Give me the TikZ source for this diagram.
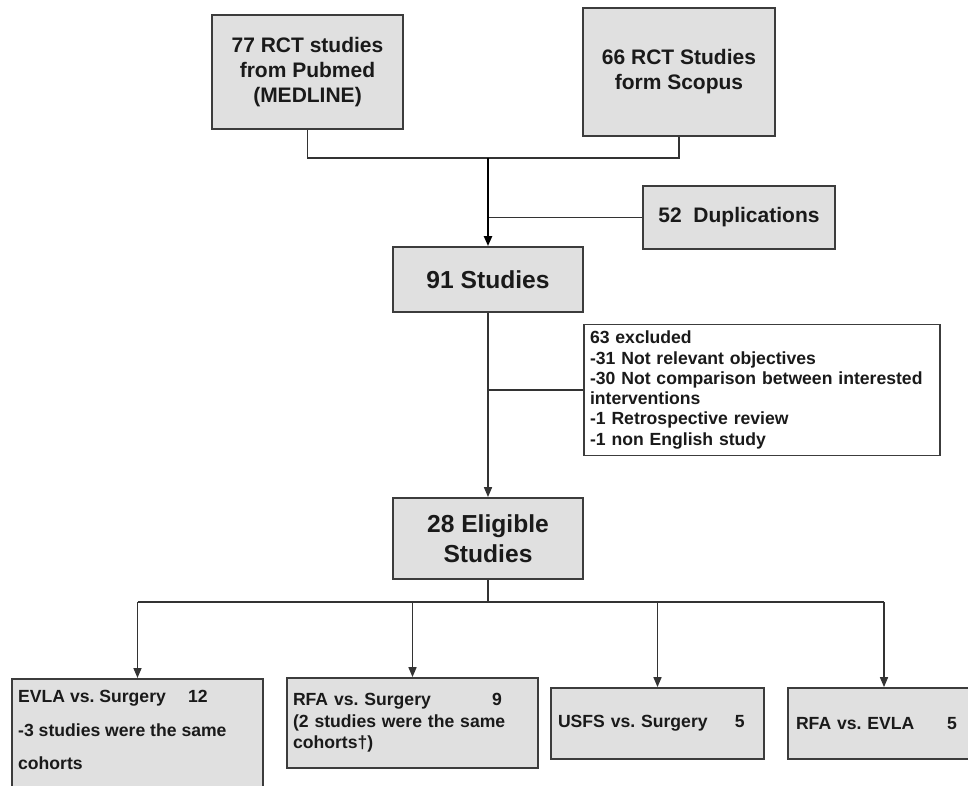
\documentclass[tikz,border=0pt]{standalone}
\usepackage{fontspec}
\setmainfont{Liberation Sans}
\usetikzlibrary{arrows.meta}
\definecolor{boxfill}{HTML}{E0E0E0}
\definecolor{boxline}{HTML}{3C3C3C}
\definecolor{conncol}{HTML}{333333}
\definecolor{txt}{HTML}{1A1A1A}
\frenchspacing
\begin{document}
\begin{tikzpicture}[x=1pt,y=-1pt,
  box/.style={draw=boxline, line width=1.8pt, fill=boxfill, inner sep=0pt, text=txt,
    font=\bfseries\fontsize{21}{25}\selectfont, align=center},
  bigbox/.style={box, font=\bfseries\fontsize{24.6}{30}\selectfont},
  smallbox/.style={box, align=left, font=\bfseries\fontsize{17.6}{21.5}\selectfont},
  conn/.style={draw=conncol, line width=1.6pt},
  arr/.style={conn, -{Triangle[length=10pt,width=8pt]}},
  btxt/.style={text=txt, inner sep=0pt, anchor=north west, align=left,
    font=\bfseries\fontsize{17.6}{33.5}\selectfont}
]
\useasboundingbox (0,0) rectangle (968,786);

% top boxes
\node[box, minimum width=191pt, minimum height=114pt] (pub) at (307.5,72)
  {77 RCT studies\\from Pubmed\\(MEDLINE)};
\node[box, minimum width=192pt, minimum height=128pt] (scop) at (679,72)
  {66 RCT Studies\\form Scopus};
\node[box, minimum width=192pt, minimum height=63pt] (dup) at (739,217.5)
  {52\ \ Duplications};
\node[bigbox, minimum width=190pt, minimum height=65pt] (s91) at (488,279.5)
  {91 Studies};
\node[smallbox, fill=white, text width=344pt, minimum width=356pt, minimum height=131pt,
  font=\bfseries\fontsize{17.6}{20.3}\selectfont] (excl) at (762,390)
  {63 excluded\\-31 Not relevant objectives\\-30 Not comparison between interested\\interventions\\-1 Retrospective review\\-1 non English study};
\node[bigbox, minimum width=190pt, minimum height=81pt] (s28) at (488,538.5)
  {28 Eligible\\Studies};

% bottom boxes
\node[box, anchor=north, minimum width=251pt, minimum height=130pt] (b1) at (137.5,678) {};
\node[btxt] (t1) at (18,690.3)
  {\makebox[170pt][l]{EVLA vs. Surgery}12\\-3 studies were the same\\cohorts};
\node[smallbox, text width=239pt, minimum width=251pt, minimum height=90pt] (b2) at (412.5,723)
  {\makebox[199pt][l]{RFA vs. Surgery}9\\(2 studies were the same\\cohorts\textdagger)};
\node[smallbox, text width=199pt, minimum width=213pt, minimum height=71pt] (b3) at (657.5,723.5)
  {\makebox[177pt][l]{USFS vs. Surgery}5};
\node[smallbox, text width=176pt, minimum width=192pt, minimum height=71pt] (b4) at (884,723.5)
  {\makebox[151pt][l]{RFA vs. EVLA}5};

% connectors
\coordinate (j1) at (488,158);
\draw[conn] (pub.south) |- (j1) -| (scop.south);
\draw[conn] (dup.west) -- (dup.west -| j1);
\draw[arr, line width=2.2pt, draw=black] (j1) -- (s91.north);
\draw[arr] (s91.south) -- (s28.north);
\draw[conn] (excl.west) -- (excl.west -| s91.south);
\coordinate (bus) at (488,602);
\draw[conn] (s28.south) -- (bus);
\draw[conn] (b1.north |- bus) -- (b4.north |- bus);
\foreach \b in {b1,b2,b3,b4} \draw[arr] (\b.north |- bus) -- (\b.north);
\end{tikzpicture}
\end{document}
